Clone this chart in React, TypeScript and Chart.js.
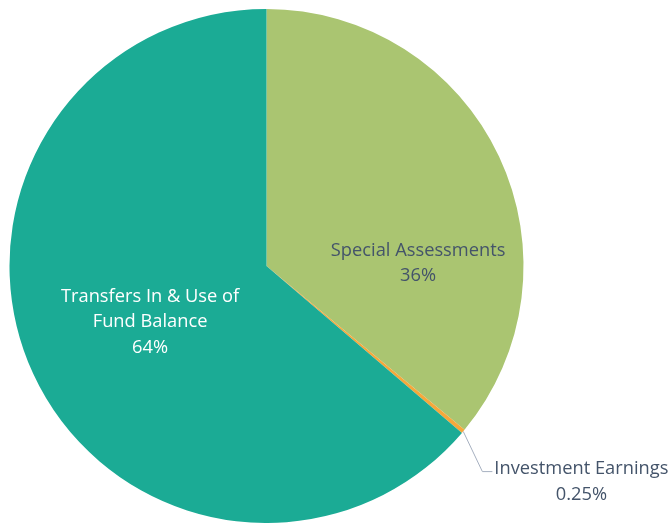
import React, { useEffect, useRef } from "react";
import { Chart, registerables } from "chart.js";

Chart.register(...registerables);

const categories = ["Special Assessments", "Investment Earnings", "Transfers In & Use of Fund Balance"];
const values = [36, 0.25, 63.75];
const percentLabels = ["36%", "0.25%", "64%"];
const labelLines = [["Special Assessments"], ["Investment Earnings"], ["Transfers In & Use of", "Fund Balance"]];
const colors = ["#AAC571", "#F5A83B", "#1BAB95"];

const FONT = "'Open Sans', sans-serif";

const labelPlugin = {
  id: "sliceLabels",
  afterDatasetsDraw(chart: any) {
    const ctx = chart.ctx;
    const meta = chart.getDatasetMeta(0);
    const arc0 = meta.data[0];
    const cx = arc0.x;
    const cy = arc0.y;
    const r = arc0.outerRadius;
    const fontSize = 18.3;
    const lineH = 25.5;
    ctx.save();
    ctx.font = `${fontSize}px ${FONT}`;
    ctx.textAlign = "center";
    ctx.textBaseline = "middle";
    const drawBlock = (lines: string[], x: number, y: number, color: string) => {
      ctx.fillStyle = color;
      const n = lines.length;
      lines.forEach((l, i) => {
        ctx.fillText(l, x, y + (i - (n - 1) / 2) * lineH);
      });
    };
    drawBlock([...labelLines[0], percentLabels[0]], cx + 0.59 * r, cy - 0.01 * r, "#44546A");
    drawBlock([...labelLines[2], percentLabels[2]], cx - 0.453 * r, cy + 0.218 * r, "#FFFFFF");
    const a1 = meta.data[1];
    const mid = (a1.startAngle + a1.endAngle) / 2;
    const ex = cx + Math.cos(mid) * r;
    const ey = cy + Math.sin(mid) * r;
    const kx = cx + 0.84 * r;
    const ky = cy + 0.8 * r;
    ctx.strokeStyle = "#A6B0C0";
    ctx.lineWidth = 1;
    ctx.beginPath();
    ctx.moveTo(ex, ey);
    ctx.lineTo(kx, ky);
    ctx.lineTo(kx + 10, ky);
    ctx.stroke();
    drawBlock([...labelLines[1], percentLabels[1]], kx + 99, ky + 10, "#44546A");
    ctx.restore();
  },
};

export default function App() {
  const ref = useRef<HTMLCanvasElement>(null);
  useEffect(() => {
    if (!ref.current) return;
    const chart = new Chart(ref.current, {
      type: "pie",
      data: {
        labels: categories,
        datasets: [
          {
            data: values,
            backgroundColor: colors,
            borderWidth: 0,
          },
        ],
      },
      options: {
        animation: false,
        responsive: false,
        maintainAspectRatio: false,
        layout: { padding: { left: 9.5, top: 9, right: 147.5, bottom: 0 } },
        plugins: {
          legend: { display: false },
          tooltip: { enabled: false },
        },
      },
      plugins: [labelPlugin],
    });
    return () => chart.destroy();
  }, []);
  return (
    <div style={{ position: "absolute", left: 0, top: 0, width: 671, height: 523, background: "#fff" }}>
      <canvas ref={ref} width={671} height={523} style={{ width: 671, height: 523 }} />
    </div>
  );
}
